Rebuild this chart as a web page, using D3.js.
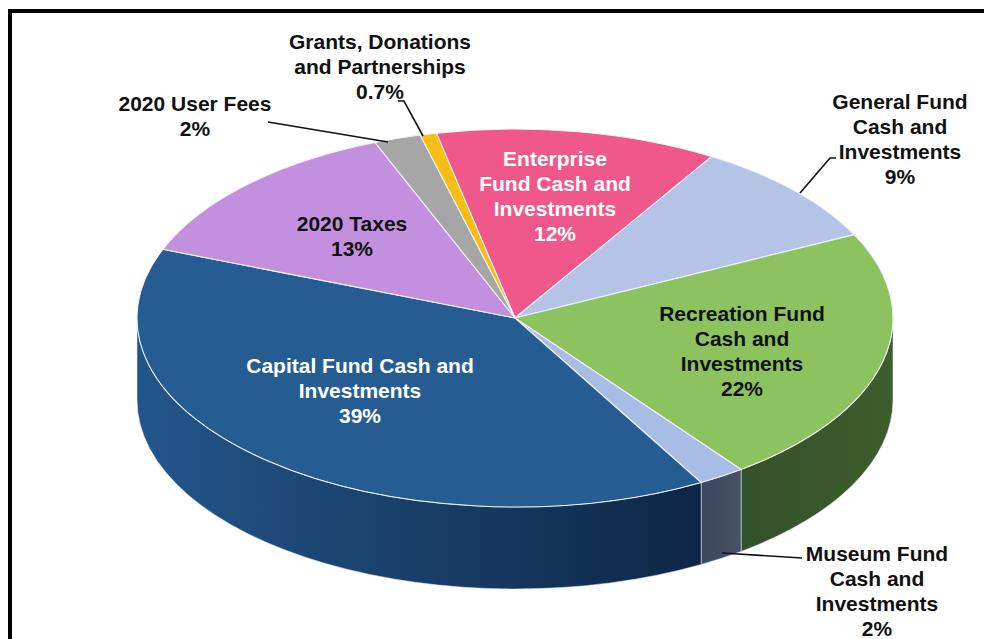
<!DOCTYPE html>
<html>
<head>
<meta charset="utf-8">
<script src="https://cdn.jsdelivr.net/npm/d3@7"></script>
<style>
  html, body { margin: 0; padding: 0; background: #ffffff; }
  svg { display: block; }
  text { font-family: "Liberation Sans", Arial, sans-serif; font-weight: bold; }
</style>
</head>
<body>
<svg id="chart" width="984" height="639"></svg>
<script>
// Fund sources, in clockwise order starting at the top of the pie
const categories = [
  "Enterprise Fund Cash and Investments",
  "General Fund Cash and Investments",
  "Recreation Fund Cash and Investments",
  "Museum Fund Cash and Investments",
  "Capital Fund Cash and Investments",
  "2020 Taxes",
  "2020 User Fees",
  "Grants, Donations and Partnerships"
];
const shares = [12, 9, 22, 2, 39, 13, 2, 0.7];
const shareLabels = ["12%", "9%", "22%", "2%", "39%", "13%", "2%", "0.7%"];
const labelLines = [
  ["Enterprise", "Fund Cash and", "Investments"],
  ["General Fund", "Cash and", "Investments"],
  ["Recreation Fund", "Cash and", "Investments"],
  ["Museum Fund", "Cash and", "Investments"],
  ["Capital Fund Cash and", "Investments"],
  ["2020 Taxes"],
  ["2020 User Fees"],
  ["Grants, Donations", "and Partnerships"]
];
const topColors = ["#f0588c", "#b4c4e6", "#8dc35f", "#a8bde6", "#255d92", "#c290de", "#a6a6a6", "#f8bd12"];
const sideColors = [
  ["#a83e62", "#a83e62"],
  ["#6e7a92", "#6e7a92"],
  ["#33502a", "#3e5d2c"],
  ["#3b475e", "#475266"],
  ["#22568a", "#0e2646"],
  ["#7a5a8e", "#7a5a8e"],
  ["#666666", "#666666"],
  ["#a67d0a", "#a67d0a"]
];
const labelColors = ["#ffffff", "#111111", "#111111", "#111111", "#ffffff", "#111111", "#111111", "#111111"];
// label anchor: centre x, centre y of first line
const labelAnchors = [[555, 158], [900, 101], [742, 313], [877, 553], [360, 365], [352, 223], [195, 103], [380, 41]];
// leader lines for labels placed outside the pie
const leaders = [
  null,
  [[836, 158], [830, 158], [800, 193]],
  null,
  [[722, 553], [802, 558]],
  null,
  null,
  [[268, 122], [388, 142]],
  [[398, 101], [404, 101], [423, 136]]
];

const svg = d3.select("#chart");

// frame
svg.append("rect")
  .attr("x", 10).attr("y", 11)
  .attr("width", 1000).attr("height", 720)
  .attr("fill", "none").attr("stroke", "#000").attr("stroke-width", 4);

// pie geometry (tilted disc)
const cx = 515, cy = 318, rx = 378, ry = 189, depth = 82;
const start = -12 * Math.PI / 180;

const pie = d3.pie().sort(null).value(d => d.value)
  .startAngle(start).endAngle(start + 2 * Math.PI);

const data = categories.map((c, i) => ({ name: c, value: shares[i], i }));
const arcs = pie(data);

const px = a => cx + rx * Math.sin(a);
const py = a => cy - ry * Math.cos(a);

const defs = svg.append("defs");

// side walls (front half only)
const sideG = svg.append("g");
arcs.forEach(d => {
  const s0 = Math.max(d.startAngle, Math.PI / 2);
  const s1 = Math.min(d.endAngle, 3 * Math.PI / 2);
  if (s1 <= s0) return;
  const gid = "side" + d.data.i;
  const g = defs.append("linearGradient").attr("id", gid)
    .attr("gradientUnits", "userSpaceOnUse")
    .attr("x1", Math.min(px(s0), px(s1))).attr("x2", Math.max(px(s0), px(s1)))
    .attr("y1", 0).attr("y2", 0);
  g.append("stop").attr("offset", "0%").attr("stop-color", sideColors[d.data.i][0]);
  g.append("stop").attr("offset", "100%").attr("stop-color", sideColors[d.data.i][1]);
  const path =
    `M${px(s0)},${py(s0)} A${rx},${ry} 0 0 1 ${px(s1)},${py(s1)} ` +
    `L${px(s1)},${py(s1) + depth} A${rx},${ry} 0 0 0 ${px(s0)},${py(s0) + depth} Z`;
  sideG.append("path")
    .attr("d", path)
    .attr("fill", `url(#${gid})`)
    .attr("stroke", "rgba(220,230,245,0.55)")
    .attr("stroke-width", 1);
});

// top surface
const topG = svg.append("g");
arcs.forEach(d => {
  const a0 = d.startAngle, a1 = d.endAngle;
  const large = (a1 - a0) > Math.PI ? 1 : 0;
  const path =
    `M${cx},${cy} L${px(a0)},${py(a0)} A${rx},${ry} 0 ${large} 1 ${px(a1)},${py(a1)} Z`;
  topG.append("path")
    .attr("d", path)
    .attr("fill", topColors[d.data.i])
    .attr("stroke", "#eef3fa")
    .attr("stroke-width", 1.1)
    .attr("stroke-linejoin", "round");
});

// leader lines
const line = d3.line();
leaders.forEach(l => {
  if (!l) return;
  svg.append("path").attr("d", line(l))
    .attr("fill", "none").attr("stroke", "#111").attr("stroke-width", 1.6);
});

// labels
const lh = 25;
arcs.forEach(d => {
  const i = d.data.i;
  const lines = labelLines[i].concat([shareLabels[i]]);
  const [ax, ay] = labelAnchors[i];
  const t = svg.append("text")
    .attr("text-anchor", "middle")
    .attr("font-size", 21)
    .attr("fill", labelColors[i]);
  lines.forEach((s, k) => {
    t.append("tspan").attr("x", ax).attr("y", ay + k * lh + 7.5).text(s);
  });
});
</script>
</body>
</html>
